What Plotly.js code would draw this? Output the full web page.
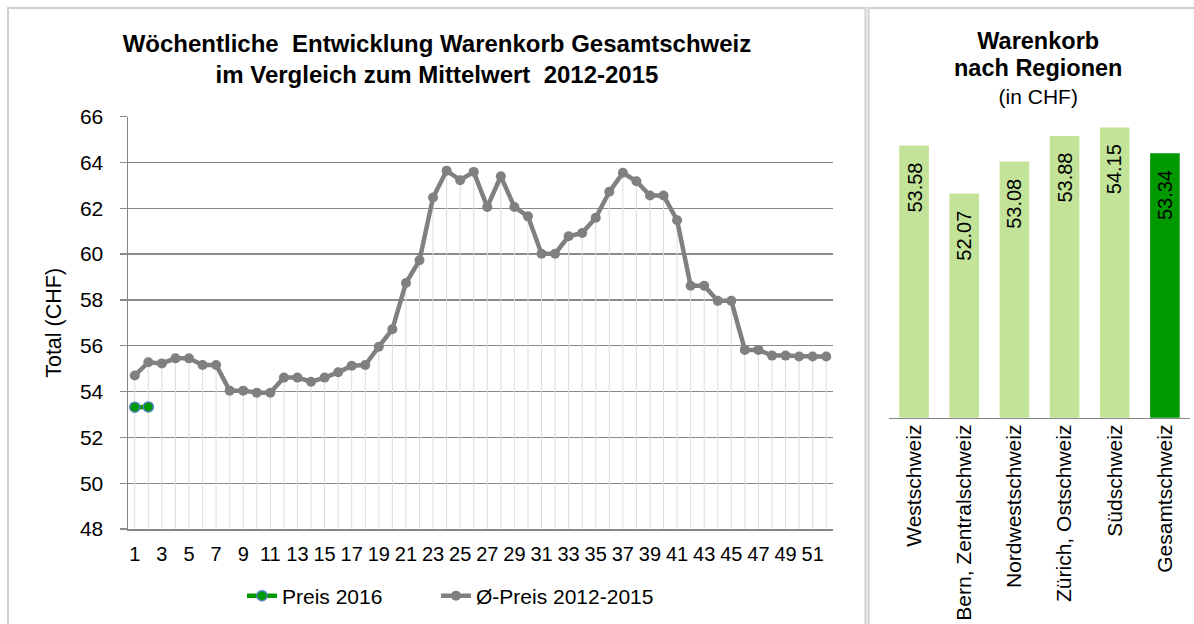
<!DOCTYPE html>
<html>
<head>
<meta charset="utf-8">
<script src="https://cdn.plot.ly/plotly-3.0.1.min.js"></script>
<style>
html,body{margin:0;padding:0;background:#ffffff;}
#chart{width:1194px;height:624px;}
</style>
</head>
<body>
<div id="chart"></div>
<script>
// ---- data ----
const weeks = [1,2,3,4,5,6,7,8,9,10,11,12,13,14,15,16,17,18,19,20,21,22,23,24,25,26,
               27,28,29,30,31,32,33,34,35,36,37,38,39,40,41,42,43,44,45,46,47,48,49,50,51,52];
const avgPrice = [54.70,55.28,55.23,55.45,55.45,55.16,55.16,54.04,54.04,53.95,53.95,54.61,54.61,
                  54.43,54.61,54.84,55.13,55.16,55.96,56.72,58.74,59.73,62.47,63.64,63.23,63.59,
                  62.06,63.40,62.06,61.65,60.02,60.02,60.78,60.92,61.59,62.72,63.55,63.18,62.56,
                  62.56,61.48,58.62,58.62,57.96,57.96,55.82,55.82,55.57,55.57,55.53,55.53,55.53];
const weeks2016 = [1,2];
const price2016 = [53.32,53.33];
const seriesNames = ['Preis 2016','Ø-Preis 2012-2015'];
const yMin = 48;

const regions = ['Westschweiz','Bern, Zentralschweiz','Nordwestschweiz','Zürich, Ostschweiz','Südschweiz','Gesamtschweiz'];
const regionValues = [53.58,52.07,53.08,53.88,54.15,53.34];
const totalRegion = 'Gesamtschweiz';

// ---- layout helpers (pixel -> paper) ----
const W = 1194, H = 624;
const px = x => x / W;
const py = y => 1 - y / H;
const FONT = 'Liberation Sans, Arial, sans-serif';

const dropDown = avgPrice.map(v => v - yMin);
const zeros = avgPrice.map(() => 0);

const traces = [
  {
    type: 'scatter', mode: 'lines+markers',
    x: weeks, y: avgPrice, name: seriesNames[1], legend: 'legend2',
    xaxis: 'x', yaxis: 'y',
    line: {color: '#808080', width: 4.5},
    marker: {color: '#808080', size: 10},
    error_y: {type: 'data', symmetric: false, array: zeros, arrayminus: dropDown,
              color: '#dcdcdc', thickness: 1, width: 0},
    hoverinfo: 'skip'
  },
  {
    type: 'scatter', mode: 'lines+markers',
    x: weeks2016, y: price2016, name: seriesNames[0], legend: 'legend',
    xaxis: 'x', yaxis: 'y',
    line: {color: '#009900', width: 4.5},
    marker: {color: '#009900', size: 10, line: {color: '#4f81bd', width: 1.5}},
    hoverinfo: 'skip'
  },
  {
    type: 'bar', x: regions, y: regionValues, xaxis: 'x2', yaxis: 'y2',
    showlegend: false,
    marker: {color: regions.map(r => r === totalRegion ? '#009900' : '#c2e398')},
    hoverinfo: 'skip'
  }
];

const barLabels = regions.map((r, i) => ({
  xref: 'x2', yref: 'y2', x: r, y: regionValues[i],
  text: regionValues[i].toFixed(2), textangle: -90,
  xanchor: 'center', yanchor: 'middle', yshift: -42,
  showarrow: false, font: {size: 20, family: FONT, color: '#000000'}
}));

const legendStyle = {
  orientation: 'h', xanchor: 'left',
  y: py(596), yanchor: 'middle',
  font: {size: 21}, bgcolor: 'rgba(0,0,0,0)'
};

const layout = {
  width: W, height: H,
  margin: {l: 0, r: 0, t: 0, b: 0, pad: 0},
  paper_bgcolor: '#ffffff', plot_bgcolor: 'rgba(0,0,0,0)',
  font: {family: FONT, color: '#000000', size: 20},
  showlegend: true,
  title: {
    text: '<b>Wöchentliche \u00a0Entwicklung Warenkorb Gesamtschweiz</b><br><b>im Vergleich zum Mittelwert \u00a02012-2015</b>',
    font: {size: 24, family: FONT, color: '#000000'},
    x: px(437), xref: 'container', xanchor: 'center',
    y: py(52), yref: 'container', yanchor: 'top'
  },
  xaxis: {
    domain: [px(128), px(833)], anchor: 'y',
    range: [0.5, 52.5], tick0: 1, dtick: 2,
    showgrid: false, zeroline: false,
    showline: true, linecolor: '#868686', linewidth: 1.5,
    ticks: '', ticklabelstandoff: 6,
    tickfont: {size: 20}, fixedrange: true
  },
  yaxis: {
    domain: [py(529), py(116.7)], anchor: 'x',
    range: [48, 66], dtick: 2,
    showgrid: true, gridcolor: '#8a8a8a', gridwidth: 1.3,
    zeroline: false,
    showline: true, linecolor: '#868686', linewidth: 1.5,
    ticks: 'outside', ticklen: 7, tickcolor: '#8a8a8a', tickwidth: 1.3,
    ticklabelstandoff: 12,
    tickfont: {size: 21},
    title: {text: 'Total (CHF)', font: {size: 21.5}, standoff: 12},
    fixedrange: true
  },
  xaxis2: {
    domain: [px(889), px(1190)], anchor: 'y2',
    type: 'category',
    showgrid: false, zeroline: false,
    showline: true, linecolor: '#868686', linewidth: 1.5,
    ticks: '', tickangle: -90, tickfont: {size: 21},
    ticklabelstandoff: -3, fixedrange: true
  },
  yaxis2: {
    domain: [py(417.7), py(110)], anchor: 'x2',
    range: [45, 54.7], visible: false, fixedrange: true
  },
  bargap: 0.41,
  legend: Object.assign({x: px(242)}, legendStyle),
  legend2: Object.assign({x: px(436)}, legendStyle),
  annotations: [{
    text: '<span style="font-size:23.5px"><b>Warenkorb</b></span><br><span style="font-size:23.5px"><b>nach Regionen</b></span><br>(in CHF)',
    xref: 'paper', yref: 'paper', x: px(1038), y: py(26),
    xanchor: 'center', yanchor: 'top', showarrow: false,
    font: {size: 21, family: FONT, color: '#000000'}
  }].concat(barLabels),
  shapes: [
    {type: 'rect', xref: 'paper', yref: 'paper',
     x0: px(8), x1: px(865.5), y0: -0.1, y1: py(8),
     line: {color: '#cfcfcf', width: 2}, fillcolor: 'rgba(0,0,0,0)', layer: 'below'},
    {type: 'rect', xref: 'paper', yref: 'paper',
     x0: px(868.5), x1: 1.1, y0: -0.1, y1: py(8),
     line: {color: '#cfcfcf', width: 2}, fillcolor: 'rgba(0,0,0,0)', layer: 'below'}
  ]
};

Plotly.newPlot('chart', traces, layout, {displayModeBar: false, staticPlot: true});
</script>
</body>
</html>
